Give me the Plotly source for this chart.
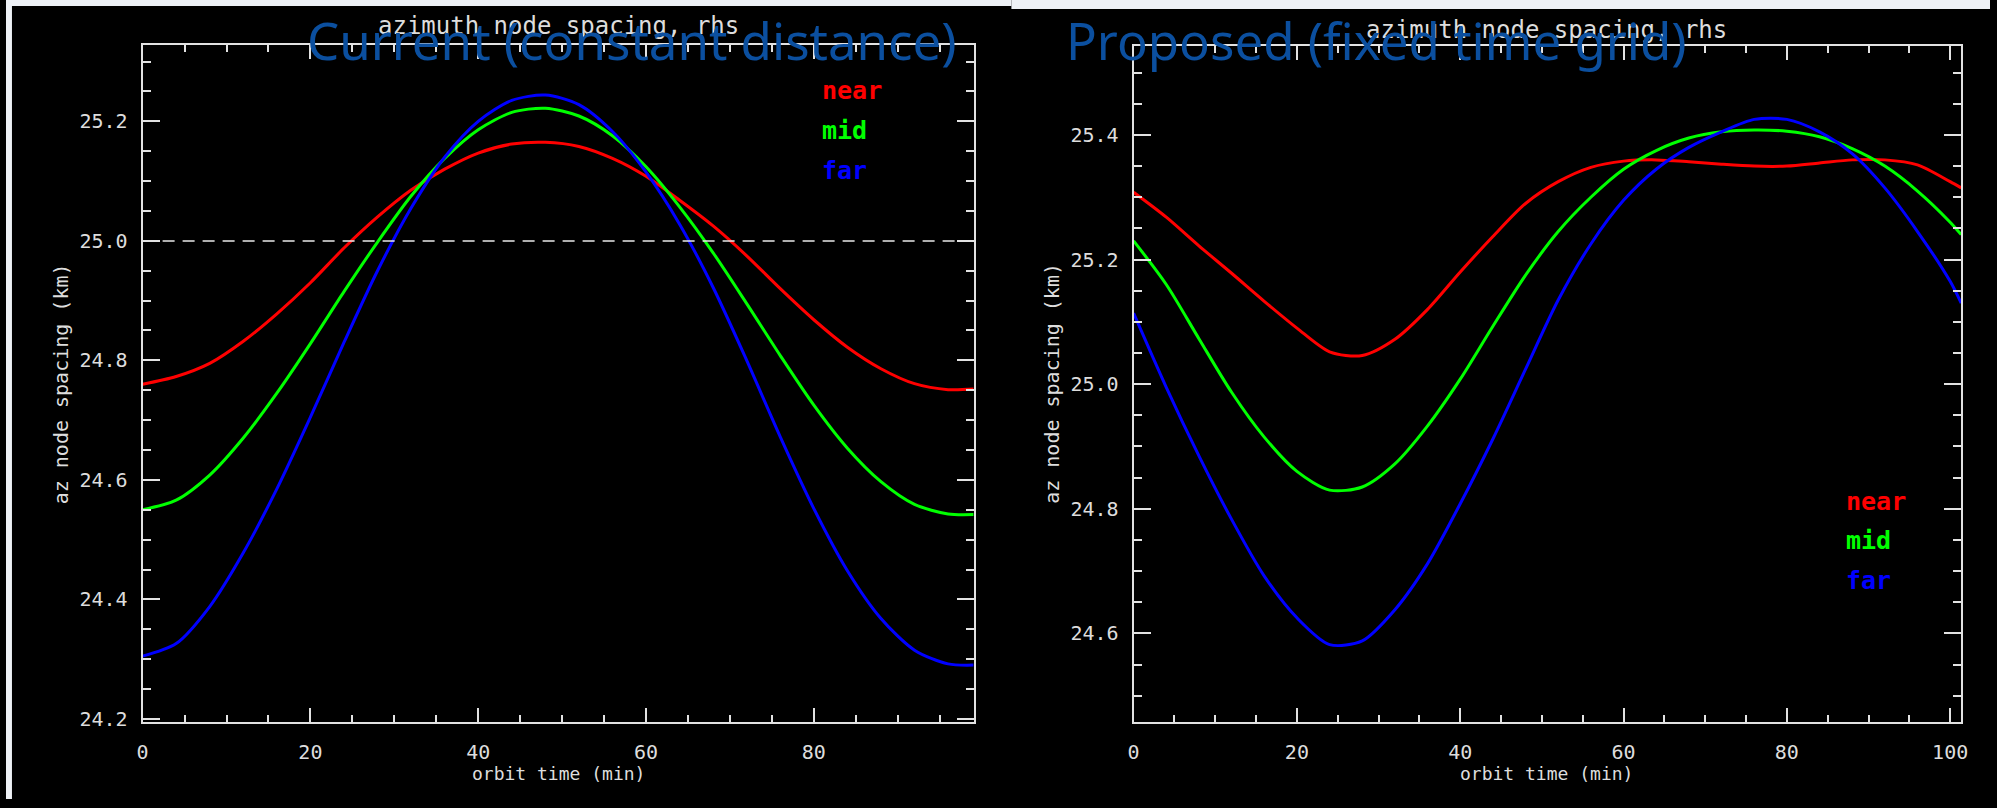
import plotly.graph_objects as go

W, H = 1997, 808

# ---- data: azimuth node spacing (km) vs orbit time (min) ----
t_cur = [0, 4, 8, 12, 16, 20, 24, 28, 32, 36, 40, 44, 48, 52, 56, 60, 64, 68, 72,
         76, 80, 84, 88, 92, 96, 99.05]
near_cur = [24.760, 24.773, 24.795, 24.832, 24.878, 24.930, 24.988, 25.040, 25.085,
            25.120, 25.147, 25.162, 25.165, 25.158, 25.138, 25.108, 25.068, 25.025,
            24.975, 24.920, 24.868, 24.822, 24.786, 24.761, 24.751, 24.752]
mid_cur = [24.550, 24.566, 24.608, 24.670, 24.745, 24.828, 24.915, 24.998, 25.075,
           25.138, 25.186, 25.215, 25.222, 25.209, 25.176, 25.124, 25.057, 24.980,
           24.895, 24.808, 24.725, 24.653, 24.597, 24.559, 24.543, 24.542]
far_cur = [24.305, 24.326, 24.388, 24.478, 24.585, 24.705, 24.830, 24.950, 25.055,
           25.140, 25.200, 25.235, 25.244, 25.228, 25.183, 25.115, 25.028, 24.922,
           24.800, 24.672, 24.552, 24.448, 24.368, 24.315, 24.292, 24.290]

t_new = [0, 4, 8, 12, 16, 20, 24, 28, 32, 36, 40, 44, 48, 52, 56, 60, 64, 68, 72,
         76, 80, 84, 88, 92, 96, 100, 101.35]
near_new = [25.308, 25.268, 25.222, 25.178, 25.133, 25.090, 25.052, 25.046, 25.072,
            25.120, 25.180, 25.237, 25.290, 25.325, 25.348, 25.358, 25.360, 25.357,
            25.353, 25.350, 25.350, 25.355, 25.360, 25.360, 25.352, 25.325, 25.315]
mid_new = [25.230, 25.160, 25.073, 24.987, 24.915, 24.860, 24.830, 24.835, 24.872,
           24.933, 25.008, 25.093, 25.175, 25.245, 25.300, 25.345, 25.375, 25.395,
           25.405, 25.408, 25.406, 25.397, 25.378, 25.350, 25.310, 25.260, 25.240]
far_new = [25.114, 24.995, 24.885, 24.783, 24.692, 24.625, 24.582, 24.588, 24.638,
           24.712, 24.808, 24.912, 25.024, 25.135, 25.225, 25.295, 25.345, 25.380,
           25.405, 25.425, 25.425, 25.405, 25.370, 25.315, 25.245, 25.165, 25.130]

series_names = ["near", "mid", "far"]
series_colors = ["#ff0000", "#00ff00", "#0000ff"]

panel_titles = ["Current (constant distance)", "Proposed (fixed time grid)"]
plot_title = "azimuth node spacing, rhs"
x_title = "orbit time (min)"
y_title = "az node spacing (km)"
ref_level = 25.0


def px(x):
    return x / W


def py(y):
    return 1 - y / H


fig = go.Figure()

for ts, ys_list, xa, ya in [
    (t_cur, [near_cur, mid_cur, far_cur], "x", "y"),
    (t_new, [near_new, mid_new, far_new], "x2", "y2"),
]:
    for name, ys, col in zip(series_names, ys_list, series_colors):
        fig.add_trace(go.Scatter(
            x=ts, y=ys, mode="lines", name=name, xaxis=xa, yaxis=ya,
            line=dict(color=col, width=3, shape="spline", smoothing=0.8),
            showlegend=False, hoverinfo="skip"))

# dashed reference level on the current-scheme panel
fig.add_trace(go.Scatter(
    x=[0, t_cur[-1]], y=[ref_level, ref_level], mode="lines", xaxis="x", yaxis="y",
    line=dict(color="#e8e8e8", width=1.5, dash="12px,8px"),
    showlegend=False, hoverinfo="skip"))

AX = "#e2e2e2"
TXT = "#dddddd"
MONO = "DejaVu Sans Mono"

def xaxis(domain, rng, anchor):
    return dict(domain=domain, range=rng, anchor=anchor, showline=True, linecolor=AX,
                linewidth=2, mirror="allticks", ticks="inside", ticklen=14,
                tickwidth=2, tickcolor=AX, dtick=20, tick0=0, showgrid=False,
                zeroline=False, ticklabelstandoff=11,
                tickfont=dict(family=MONO, size=20, color=TXT),
                minor=dict(dtick=5, tick0=0, ticks="inside", ticklen=7,
                           tickwidth=2, tickcolor=AX, showgrid=False))

def yaxis(domain, rng, anchor):
    return dict(domain=domain, range=rng, anchor=anchor, showline=True, linecolor=AX,
                linewidth=2, mirror="allticks", ticks="inside", ticklen=17,
                tickwidth=2, tickcolor=AX, dtick=0.2, tick0=0, tickformat=".1f",
                showgrid=False, zeroline=False, ticklabelstandoff=9,
                tickfont=dict(family=MONO, size=20, color=TXT),
                minor=dict(dtick=0.05, tick0=0, ticks="inside", ticklen=8,
                           tickwidth=2, tickcolor=AX, showgrid=False))

fig.update_layout(
    width=W, height=H, margin=dict(l=0, r=0, t=0, b=0),
    paper_bgcolor="#000000", plot_bgcolor="#000000", showlegend=False,
    xaxis=xaxis([px(137.5), px(974)], [0, t_cur[-1]], "y"),
    yaxis=yaxis([py(730), py(46)], [24.195, 25.327], "x"),
    xaxis2=xaxis([px(1135), px(1968)], [0, t_new[-1]], "y2"),
    yaxis2=yaxis([py(730), py(47)], [24.458, 25.542], "x2"),
)

# light slide background showing around the two black panels
bg = "#eef1f6"
fig.add_shape(type="rect", xref="paper", yref="paper", x0=0, x1=px(1012),
              y0=py(6), y1=1, fillcolor=bg, line_width=0, layer="below")
fig.add_shape(type="rect", xref="paper", yref="paper", x0=px(1012), x1=1,
              y0=py(9), y1=1, fillcolor=bg, line_width=0, layer="below")
fig.add_shape(type="rect", xref="paper", yref="paper", x0=0, x1=px(6),
              y0=0, y1=1, fillcolor=bg, line_width=0, layer="below")

ann = []
# per-panel plot titles and axis titles
for cx, ty, ycx in [(556, 26, 55), (1551, 30, 1053)]:
    ann.append(dict(x=px(cx), y=py(ty), xref="paper", yref="paper", text=plot_title,
                    showarrow=False, font=dict(family=MONO, size=24, color=TXT),
                    xanchor="center", yanchor="middle"))
    ann.append(dict(x=px(ycx), y=py(388), xref="paper", yref="paper", text=y_title,
                    showarrow=False, textangle=-90,
                    font=dict(family=MONO, size=20, color=TXT),
                    xanchor="center", yanchor="middle"))
for cx in [556, 1551]:
    ann.append(dict(x=px(cx), y=py(782), xref="paper", yref="paper", text=x_title,
                    showarrow=False, font=dict(family=MONO, size=18, color=TXT),
                    xanchor="center", yanchor="middle"))

# series labels
for lx, ys in [(819, [92, 132, 172]), (1850, [507, 547, 587])]:
    for name, col, yy in zip(series_names, series_colors, ys):
        ann.append(dict(x=px(lx), y=py(yy), xref="paper", yref="paper",
                        text="<b>%s</b>" % name, showarrow=False,
                        font=dict(family=MONO, size=25, color=col),
                        xanchor="left", yanchor="middle"))

# panel headings
for cx, txt in [(630, panel_titles[0]), (1379, panel_titles[1])]:
    ann.append(dict(x=px(cx), y=py(40), xref="paper", yref="paper", text=txt,
                    showarrow=False, font=dict(family="Noto Sans", size=51, color="#0b4f9f"),
                    xanchor="center", yanchor="middle"))

fig.update_layout(annotations=ann)
fig.write_html("out.html")
